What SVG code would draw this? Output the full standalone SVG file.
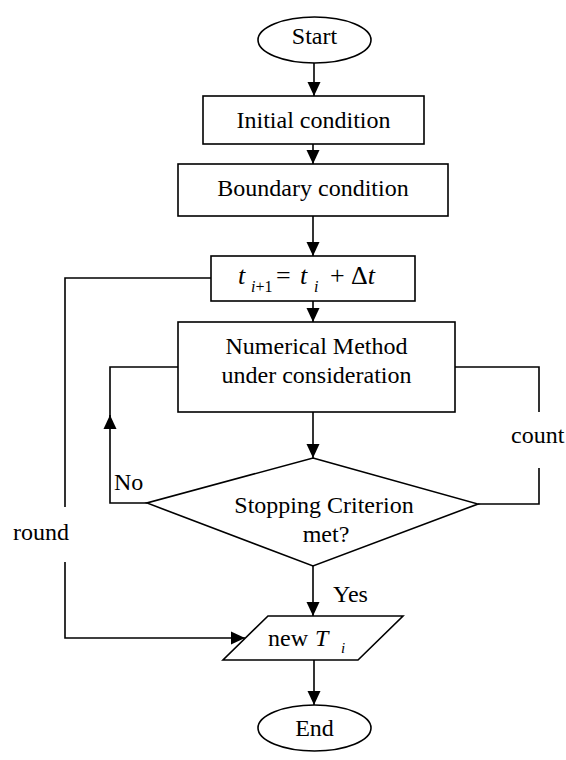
<svg xmlns="http://www.w3.org/2000/svg" width="566" height="760" viewBox="0 0 566 760">
<style>
.s{fill:#fff;stroke:#000;stroke-width:1.6}
.c{fill:none;stroke:#000;stroke-width:1.6}
text{font-family:"Liberation Serif","Times New Roman",serif;font-size:24px;fill:#000}
.m{text-anchor:middle}
.it{font-style:italic}
</style>
<defs>
<marker id="ah" markerWidth="14" markerHeight="14" viewBox="0 0 14 14" refX="14" refY="7" orient="auto" markerUnits="userSpaceOnUse">
<path d="M0,0.5 L14,7 L0,13.5 Z" fill="#000"/>
</marker>
</defs>
<rect width="566" height="760" fill="#fff"/>
<g id="connectors">
<line class="c" x1="314" y1="63" x2="314" y2="96" marker-end="url(#ah)"/>
<line class="c" x1="313" y1="144" x2="313" y2="164" marker-end="url(#ah)"/>
<line class="c" x1="313" y1="216" x2="313" y2="256" marker-end="url(#ah)"/>
<line class="c" x1="313" y1="301" x2="313" y2="322" marker-end="url(#ah)"/>
<line class="c" x1="313" y1="412" x2="313" y2="458" marker-end="url(#ah)"/>
<line class="c" x1="313" y1="566" x2="313" y2="616" marker-end="url(#ah)"/>
<line class="c" x1="314" y1="660" x2="314" y2="705" marker-end="url(#ah)"/>
<path class="c" d="M211,278 H65 V507"/>
<path class="c" d="M65,562 V638 H245" marker-end="url(#ah)"/>
<path class="c" d="M147,503 H110 V415" marker-end="url(#ah)"/>
<path class="c" d="M110,420 V367 H178"/>
<path class="c" d="M455,367 H539 V412"/>
<path class="c" d="M539,468 V504 H478"/>
<text x="13" y="540">round</text>
<text x="511" y="443">count</text>
<text x="114" y="490">No</text>
<text x="333" y="602">Yes</text>
</g>
<g id="start">
<ellipse class="s" cx="314.5" cy="40" rx="56.5" ry="23"/>
<text class="m" x="314.5" y="44">Start</text>
</g>
<g id="initial">
<rect class="s" x="203" y="96" width="221" height="48"/>
<text class="m" x="313.5" y="128">Initial condition</text>
</g>
<g id="boundary">
<rect class="s" x="178" y="164" width="270" height="52"/>
<text class="m" x="313" y="196">Boundary condition</text>
</g>
<g id="timestep">
<rect class="s" x="211" y="256" width="204" height="45"/>
<text x="238" y="284" class="it" style="font-size:26px">t</text>
<text x="251" y="292" class="it" style="font-size:16px">i<tspan font-style="normal">+1</tspan></text>
<text x="276" y="284" style="font-size:26px">=</text>
<text x="300" y="284" class="it" style="font-size:26px">t</text>
<text x="314" y="292" class="it" style="font-size:16px">i</text>
<text x="330" y="284" style="font-size:26px">+</text>
<text x="351" y="284" style="font-size:26px">Δ<tspan font-style="italic">t</tspan></text>
</g>
<g id="numerical">
<rect class="s" x="178" y="322" width="277" height="90"/>
<text class="m" x="316.5" y="354">Numerical Method</text>
<text class="m" x="316.5" y="383">under consideration</text>
</g>
<g id="decision">
<polygon class="s" points="313,458 478,504 313,566 147,503"/>
<text class="m" x="324" y="513">Stopping Criterion</text>
<text class="m" x="326" y="542">met?</text>
</g>
<g id="newT">
<polygon class="s" points="268,616 403,616 358,660 223,660"/>
<text x="268" y="646">new</text>
<text x="315" y="646" class="it">T</text>
<text x="341" y="653" class="it" style="font-size:15px">i</text>
</g>
<g id="end">
<ellipse class="s" cx="314.5" cy="728" rx="56.5" ry="23"/>
<text class="m" x="314.5" y="736">End</text>
</g>
</svg>
